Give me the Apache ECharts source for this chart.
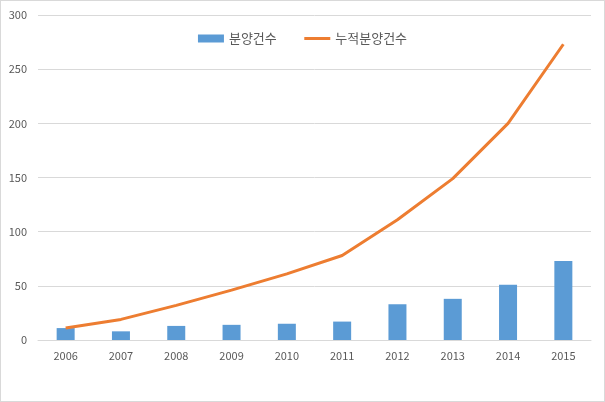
<!DOCTYPE html>
<html><head><meta charset="utf-8">
<script src="https://cdn.jsdelivr.net/npm/echarts@6/dist/echarts.min.js"></script>
<style>html,body{margin:0;padding:0;background:#fff}#c{width:605px;height:402px;box-sizing:border-box;border:1px solid #d9d9d9}</style>
</head><body><div id="c"></div>
<script>
const categories = ['2006','2007','2008','2009','2010','2011','2012','2013','2014','2015'];
const annual = [11, 8, 13, 14, 15, 17, 33, 38, 51, 73];
const cumulative = [11, 19, 32, 46, 61, 78, 111, 149, 200, 273];
const yTicks = {min: 0, max: 300, interval: 50};

const chart = echarts.init(document.getElementById('c'));
const font = '"Noto Sans CJK KR", "Noto Sans", sans-serif';
chart.setOption({
  animation: false,
  textStyle: {fontFamily: font},
  legend: {
    top: 26, left: 'center', itemGap: 26, itemWidth: 26, itemHeight: 8,
    textStyle: {color: '#595959', fontSize: 13, fontFamily: font},
    data: [
      {name: '분양건수', icon: 'rect'},
      {name: '누적분양건수', itemStyle: {opacity: 0}, lineStyle: {width: 3, color: '#ED7D31'}}
    ]
  },
  grid: {left: 37, right: 13, top: 14, bottom: 61},
  xAxis: {
    type: 'category', data: categories,
    axisLine: {lineStyle: {color: '#d9d9d9'}},
    axisTick: {show: false},
    axisLabel: {color: '#595959', fontSize: 11, margin: 10, fontFamily: font}
  },
  yAxis: {
    type: 'value', min: yTicks.min, max: yTicks.max, interval: yTicks.interval,
    axisLine: {show: false}, axisTick: {show: false},
    splitLine: {lineStyle: {color: '#d9d9d9'}},
    axisLabel: {color: '#595959', fontSize: 11, margin: 11, fontFamily: font}
  },
  series: [
    {name: '분양건수', type: 'bar', data: annual, barWidth: 18,
     itemStyle: {color: '#5B9BD5'}},
    {name: '누적분양건수', type: 'line', data: cumulative, symbol: 'none',
     lineStyle: {color: '#ED7D31', width: 3}, itemStyle: {color: '#ED7D31'}}
  ]
});
</script></body></html>
